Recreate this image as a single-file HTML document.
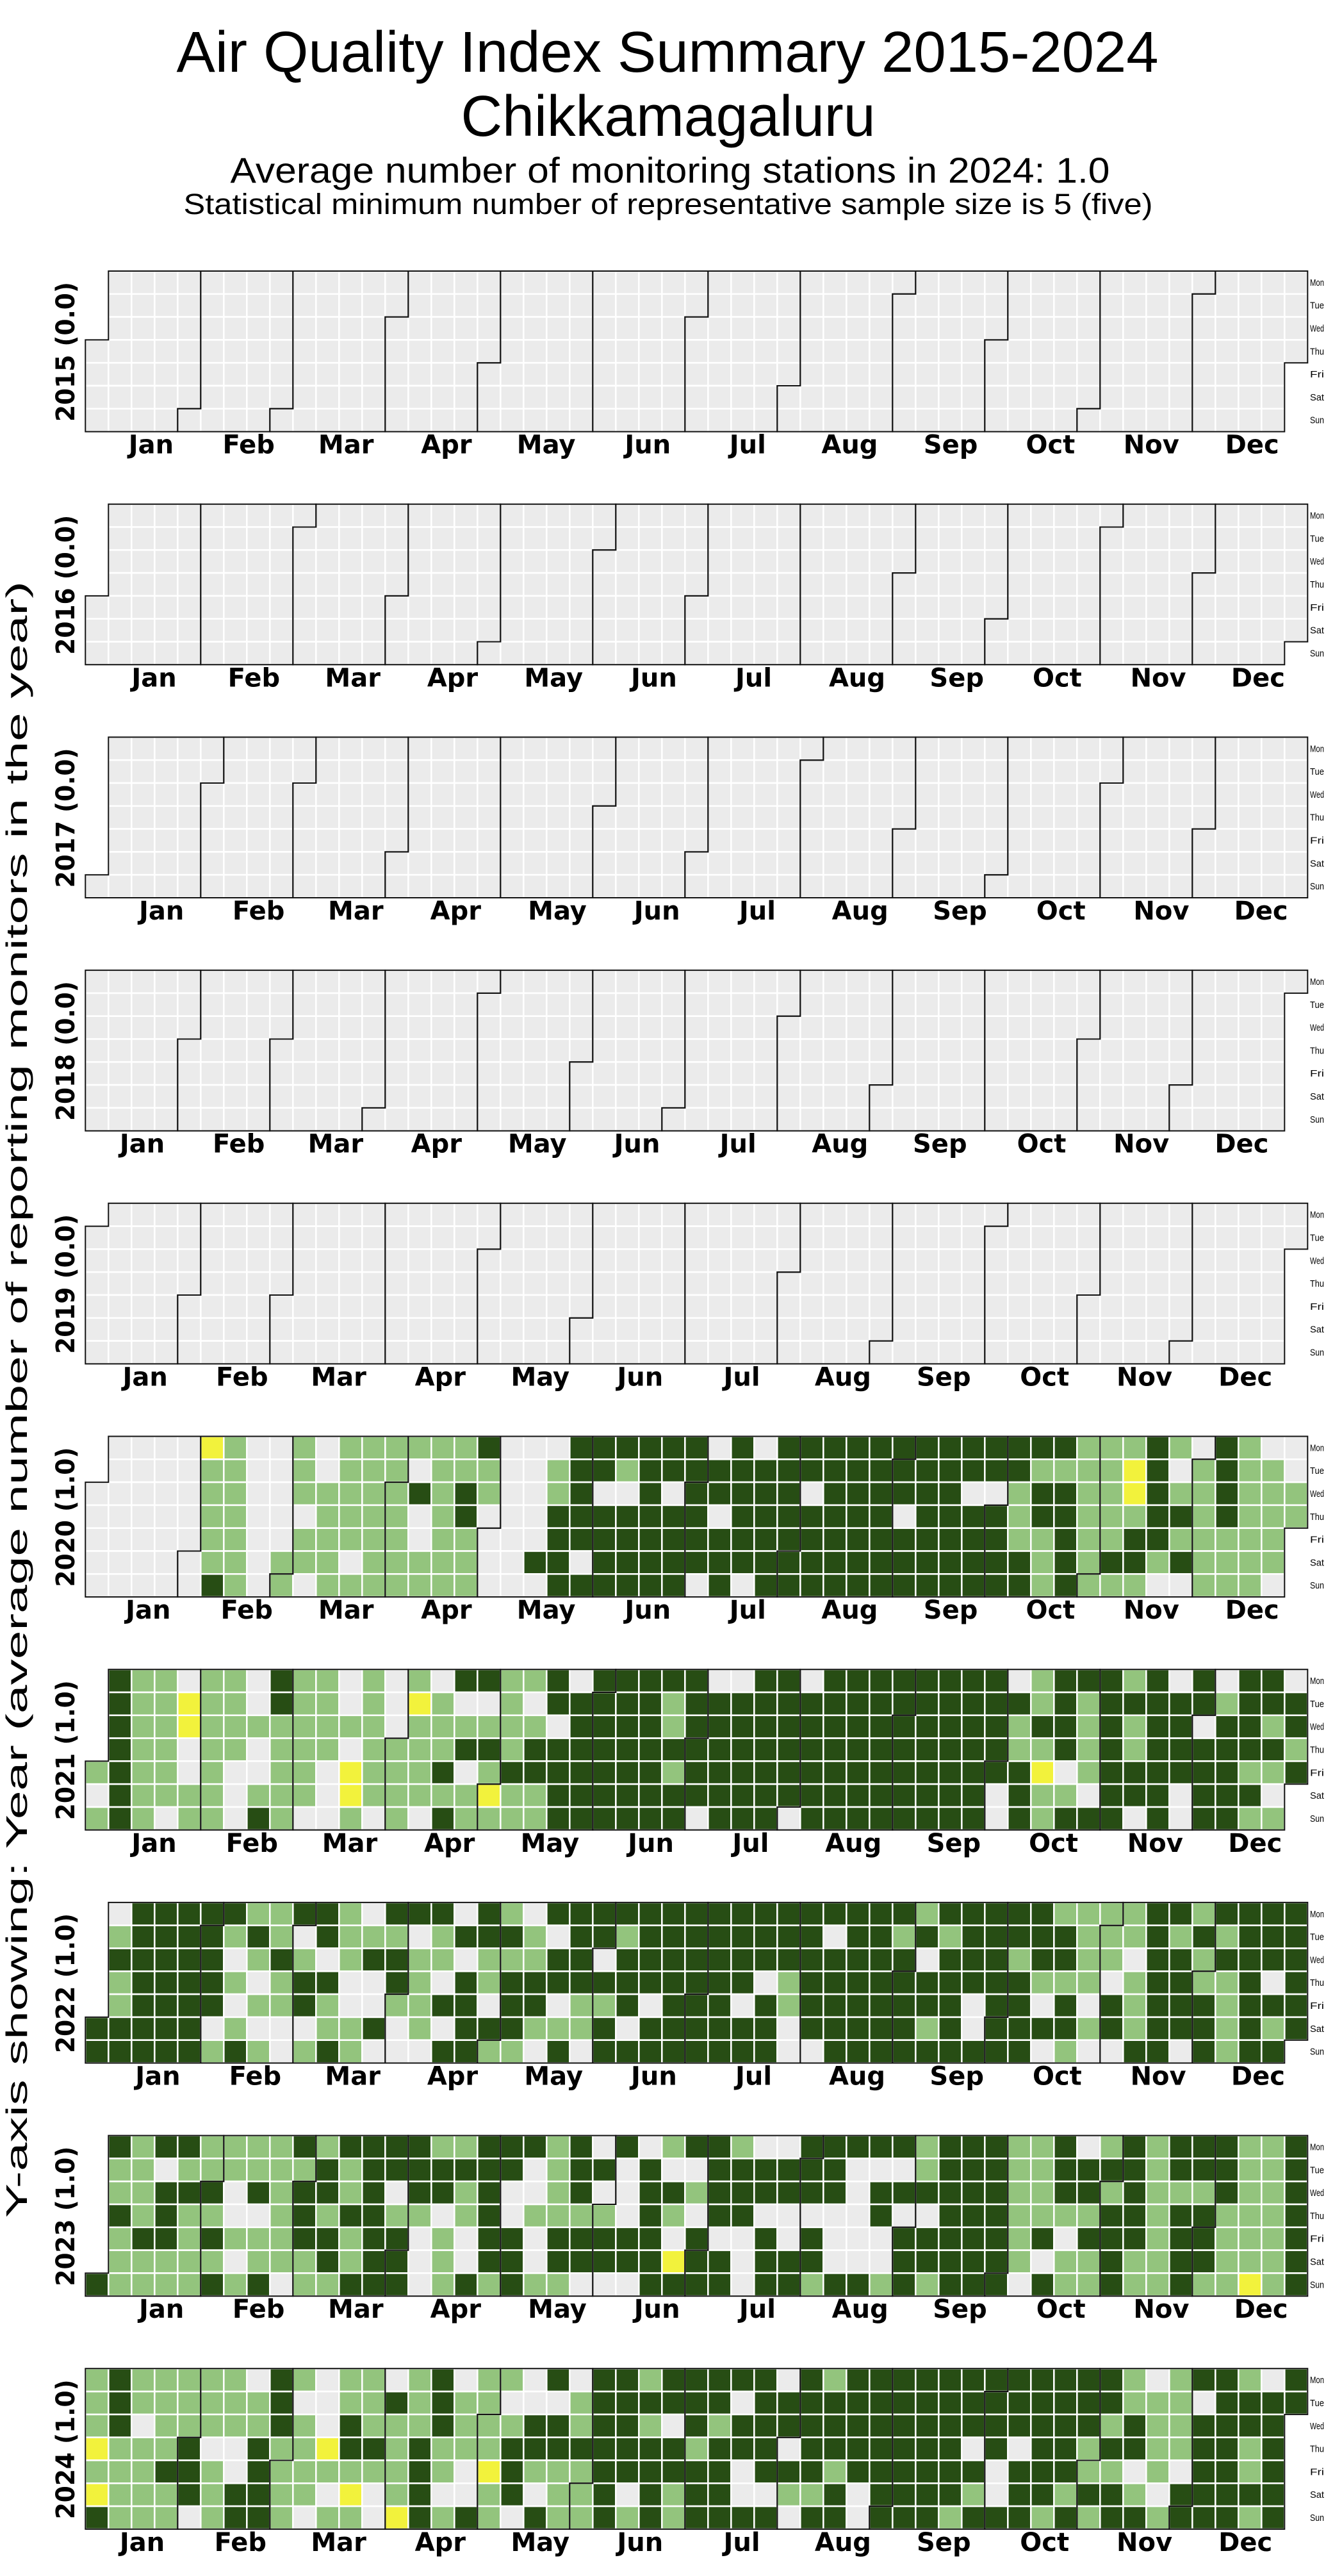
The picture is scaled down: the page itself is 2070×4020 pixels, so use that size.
<!DOCTYPE html>
<html><head><meta charset="utf-8"><title>AQI Summary Chikkamagaluru</title>
<style>html,body{margin:0;padding:0;background:#fff;}svg{display:block;}</style></head>
<body>
<svg id="chart" xmlns="http://www.w3.org/2000/svg" width="2070" height="4020" viewBox="0 0 2070 4020">
<rect x="0" y="0" width="2070" height="4020" fill="#fff"/>
<text x="1042" y="112" text-anchor="middle" font-family="Liberation Sans, sans-serif" font-size="90" textLength="1533" lengthAdjust="spacingAndGlyphs">Air Quality Index Summary 2015-2024</text>
<text x="1043" y="212" text-anchor="middle" font-family="Liberation Sans, sans-serif" font-size="90" textLength="647" lengthAdjust="spacingAndGlyphs">Chikkamagaluru</text>
<text x="1046" y="285" text-anchor="middle" font-family="Liberation Sans, sans-serif" font-size="56" textLength="1373" lengthAdjust="spacingAndGlyphs">Average number of monitoring stations in 2024: 1.0</text>
<text x="1043" y="334" text-anchor="middle" font-family="Liberation Sans, sans-serif" font-size="45" textLength="1513" lengthAdjust="spacingAndGlyphs">Statistical minimum number of representative sample size is 5 (five)</text>
<text transform="translate(42,2184) rotate(-90)" text-anchor="middle" font-family="Liberation Sans, sans-serif" font-size="46" textLength="2554" lengthAdjust="spacingAndGlyphs">Y-axis showing: Year (average number of reporting monitors in the year)</text>
<g id="panels"></g>
</svg>
<script>
// Data: AQI category per day, 7 weekday rows (Mon..Sun) x 53 week columns.
// 0 = no data, 1 = good, 2 = satisfactory, 3 = moderate, '.' = outside year
const years = [2015, 2016, 2017, 2018, 2019, 2020, 2021, 2022, 2023, 2024];
const yearLabels = ["2015 (0.0)", "2016 (0.0)", "2017 (0.0)", "2018 (0.0)", "2019 (0.0)", "2020 (1.0)", "2021 (1.0)", "2022 (1.0)", "2023 (1.0)", "2024 (1.0)"];
const monthNames = ["Jan","Feb","Mar","Apr","May","Jun","Jul","Aug","Sep","Oct","Nov","Dec"];
const dayNames = ["Mon","Tue","Wed","Thu","Fri","Sat","Sun"];
const data2015 = null;
const data2016 = null;
const data2017 = null;
const data2018 = null;
const data2019 = null;
const data2020 = [
". 0000 3 2 00 2 0 222222 1 000 111111 0 1 0 1111111111111 222 1 2 0 1 2 00",
". 0000 22 00 2 0 222 0 222 00 2 11 2 11111111111111111 2222 3 1 0 2 1 2 2 0",
"0 0000 22 00 22222 1 2 1 2 00 2 1 00 1 0 11111 0 111111 00 2 11 2 2 3 1 2 2 1 222",
"0 0000 22 000 2222 0 2 1 000 1111111 0 1111111 0 1111 2 11 222 11 2 1 222",
"0 0000 22 00 22222 0 22 000 11111111111111111111 22 1 22 11 22222 .",
"0 0000 22 0 222 0 22222 00 11 0 1111111111111111111 2 1 2 11 2 1 2222 .",
"0 0000 1 2 0 2 0 2222222 000 111111 0 1 0 111111111111 2 1 222 00 222 0 ."
];
const data2021 = [
". 1 22 0 22 0 1 22 0 2 0 2 0 11 22 1 0 11111 00 11 0 11111111 0 2 111 2 1 0 1 0 11 0",
". 1 22 3 22 0 1 22 0 2 0 3 2 00 2 0 11111 2 111111111111111 2 1 2 11111 2 111",
". 1 22 3 22222222 0 222222 0 1111 2 11111111111111 2 11 2 1 2 11 0 11 2 1",
". 1 22 0 22 0 222 0 2222 11 2 111111111111111111111 2 2 1 2 1 2 1 1 1111 2",
"2 1 22 0 2 00 22 0 3 222 1 0 2 1111111 2 111111111111111 3 0 2 111111 22 1",
"0 1 2222 0 222 0 3 22222 3 22 1111111111111111111 0 1 22 0 111 0 111 0 .",
"2 1 2 0 22 0 1 2 00 2 0 2 0 1 2222 111111 0 111 0 11111111 0 1 2 111 0 1 0 11 22 ."
];
const data2022 = [
". 0 11111 22 11 2 0 111 0 1 2 0 1111111111111111 2 11111 2222 11 2 1111",
". 2 1111 2 1 2 0 1 222 0 2 111 2 0 11 2 11111111 0 11 2 1 2 11111 222 1 2 1 2 111",
". 11111 0 2 1 2 0 2 11 22 0 222 11 0 1111111111111 0 111 2 11 22 0 11 2 1111",
". 2 1111 2 0 2 11 00 1 2 0 1 2 11111111111 0 2 1111111111 222 0 2 11 22 1 0 1",
". 2 1111 0 22 1 2 00 22 11 0 11 0 22 1 0 111 0 1 2 1111111 0 11 0 1 0 1 2 111 2 111",
"11111 0 2 000 22 1 0 2 0 111 222 1 0 111111 0 11111 2 1 0 1111 2 1 2 111 2 1 2 1",
"11111 2 1 2 0 2 1 2 000 11 22 0 1 0 11111111 00 111111111 0 2 00 11 0 1 2 11 ."
];
const data2023 = [
". 1 2 11 2222 1 2 1111 22 111 2 1 0 1 0 2 11 2 00 11111 2 111 22 1 0 2 1 2 111 22 1",
". 22 0 222222 1 2 1111111 0 2 11 0 1 00 111111 000 2 111 22 1111 2 111 22 1",
". 22 111 0 1 2 11 2 1 0 11 2 1 00 2 1 00 11 2 111111 0 111111 22 11 2 1 222 1 22 1",
". 1 2 1 22 00 2 1 2 11 22 0 2 1 0 2222 0 1 2 0 11 00000 1 00 111 2222 11 2 11 222 1",
". 2 11 2 1 222 11 2 11 0 2 0 11 0 11111 0 1 00 1 0 1 000 11111 2 1 0 111 2 11 222 1",
". 22222 0 222 1 2 11 0 2 0 11 0 11111 3 11 0 111 000 11111 2 0 22 1 22 11 222 1",
"1 2222 1 2 1 0 22 111 0 2 1 2 1 22 000 1111 0 11 2 11 2 1 2 111 0 1 22 1 22 1 22 3 2 1"
];
const data2024 = [
"2 1 22222 0 1 2 0 22 0 2 1 0 22 0 1 0 11 2 11111 0 1 2 111111111111 2 0 2 11 2 0 1",
"2 1 222222 1 00 22 1 2 1 22 000 2 111111 0 1111111111111111 222 0 1111",
"2 1 0 22222 1 2 0 1 222 1 222 11 2 11 2 0 1 2 1111111111111111 2 1 22 1111 .",
"3 222 1 00 1 22 3 11 2 1 222 11111111 2 111 0 1111111 0 1 0 11 2 11 22 11 2 1 .",
"222 11 2 0 1 222222 1 2 0 3 1 222 111111 0 111 2 111111 0 111 22 0 2 0 11 2 1 .",
"3 222 1 2 11 22 0 3 0 2 1 00 2 1 0 22 1 0 1 2 11 00 22 1 0 1111 2 0 11 2 11 2 0 11111 .",
"1 222 0 2 11 2 0 22 0 3 1 2 1 2 0 1 22 1 2 1 2 1111 0 11 0 111 2 111 2 1 2 11 2 111 2 1 ."
];
const yearData = [data2015, data2016, data2017, data2018, data2019, data2020, data2021, data2022, data2023, data2024];
const categoryColors = ["#ebebeb", "#274d14", "#93c47d", "#f2f23c"];

const NS = "http://www.w3.org/2000/svg";
const X0 = 133.3, CW = 36, CH = 35.8, TOP0 = 423, STEP = 363.7;
function colX(c) { return X0 + c * CW; }
function rowY(top, r) { return top + r * CH; }
function mk(tag, attrs, parent) {
  const e = document.createElementNS(NS, tag);
  for (const k in attrs) e.setAttribute(k, attrs[k]);
  parent.appendChild(e);
  return e;
}
const root = document.getElementById("panels");
years.forEach(function (yr, yi) {
  const top = TOP0 + yi * STEP;
  const g = mk("g", {}, root);
  
  
  const rows = yearData[yi] ? yearData[yi].map(function (s) { return s.replace(/ /g, ''); }) : null;
  const jan1 = new Date(yr, 0, 1);
  const offset = (jan1.getDay() + 6) % 7;
  const nDays = ((yr % 4 === 0 && yr % 100 !== 0) || yr % 400 === 0) ? 366 : 365;
  const monthInfo = [];
  for (let m = 0; m < 12; m++) monthInfo.push({ first: null, last: null, sum: 0, n: 0 });
  for (let d = 0; d < nDays; d++) {
    const dt = new Date(yr, 0, 1 + d);
    const dow = (dt.getDay() + 6) % 7;
    const col = Math.floor((d + offset) / 7);
    let v = 0;
    if (rows) { const ch = rows[dow].charAt(col); if (ch >= '0' && ch <= '3') v = +ch; }
    const cell = mk("rect", { x: colX(col), y: rowY(top, dow), width: CW, height: CH, fill: categoryColors[v], stroke: "#fff", "stroke-width": 2.6 }, g);
    
    
    const mi = monthInfo[dt.getMonth()];
    if (!mi.first) mi.first = { c: col, r: dow };
    mi.last = { c: col, r: dow };
    mi.sum += col; mi.n++;
  }
  monthInfo.forEach(function (mi, m) {
    const a = mi.first.c, ra = mi.first.r, b = mi.last.c, rb = mi.last.r;
    const pts = [[a, ra], [a + 1, ra], [a + 1, 0], [b + 1, 0], [b + 1, rb + 1], [b, rb + 1], [b, 7], [a, 7]]
      .map(function (p) { return colX(p[0]).toFixed(1) + "," + rowY(top, p[1]).toFixed(1); }).join(" ");
    const pg = mk("polygon", { points: pts, fill: "none", stroke: "#111", "stroke-width": 2 }, g);
    
    
    const lx = colX(mi.sum / mi.n + 0.5) + 8;
    const t = mk("text", { x: lx.toFixed(1), y: (top + 7 * CH + 34).toFixed(1), "text-anchor": "middle", "font-family": "DejaVu Sans, sans-serif", "font-weight": "bold", "font-size": 40 }, g);
    t.textContent = monthNames[m];
    
    
  });
  dayNames.forEach(function (dn, r) {
    const t = mk("text", { x: 2045, y: (rowY(top, r) + CH / 2 + 5).toFixed(1), "font-family": "Liberation Sans, sans-serif", "font-size": 15, textLength: 22, lengthAdjust: "spacingAndGlyphs" }, g);
    t.textContent = dn;
    
    
  });
  const yl = mk("text", { transform: "translate(116," + (top + 126).toFixed(1) + ") rotate(-90)", "text-anchor": "middle", "font-family": "DejaVu Sans, sans-serif", "font-weight": "bold", "font-size": 40, textLength: 218, lengthAdjust: "spacingAndGlyphs" }, g);
  yl.textContent = yearLabels[yi];
  
  
});
</script>
</body></html>
